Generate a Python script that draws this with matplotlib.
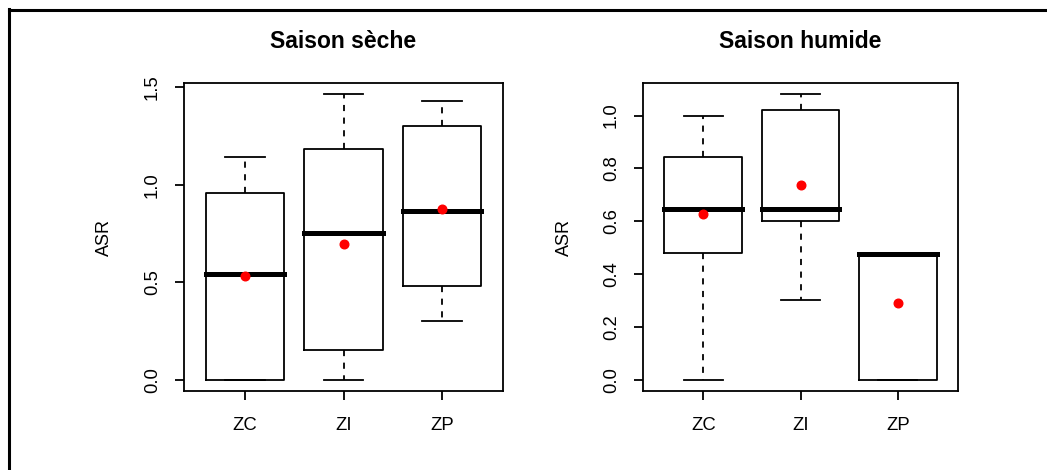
import matplotlib
matplotlib.use("Agg")
import matplotlib.pyplot as plt
from matplotlib.lines import Line2D

plt.rcParams['font.family'] = ['Liberation Sans', 'DejaVu Sans']

# Zones
categories = ["ZC", "ZI", "ZP"]

# Dry season: five-number summaries (lower whisker, Q1, median, Q3, upper whisker) and means
dry_whislo = [0.000, 0.000, 0.302]
dry_q1 = [0.000, 0.150, 0.481]
dry_med = [0.543, 0.750, 0.867]
dry_q3 = [0.957, 1.186, 1.304]
dry_whishi = [1.143, 1.464, 1.428]
dry_mean = [0.534, 0.695, 0.874]

# Wet season
wet_whislo = [0.000, 0.303, 0.000]
wet_q1 = [0.480, 0.599, 0.000]
wet_med = [0.645, 0.645, 0.476]
wet_q3 = [0.844, 1.020, 0.476]
wet_whishi = [1.000, 1.080, 0.476]
wet_mean = [0.626, 0.737, 0.289]

dry_ticks = [0.0, 0.5, 1.0, 1.5]
wet_ticks = [0.0, 0.2, 0.4, 0.6, 0.8, 1.0]

W, H = 1047, 470
fig = plt.figure(figsize=(W / 100, H / 100), dpi=100)

LW = 1.3


def panel(rect, title, whislo, q1, med, q3, whishi, means, yticks):
    ax = fig.add_axes(rect)
    stats = []
    for i, name in enumerate(categories):
        stats.append(dict(label=name, whislo=whislo[i], q1=q1[i], med=med[i],
                          q3=q3[i], whishi=whishi[i], fliers=[]))
    pos = list(range(1, len(categories) + 1))
    ax.bxp(stats, positions=pos, widths=0.8, capwidths=0.4, showfliers=False,
           boxprops=dict(color="black", linewidth=LW),
           whiskerprops=dict(color="black", linewidth=LW, linestyle=(0, (3.4, 3.6))),
           capprops=dict(color="black", linewidth=LW),
           medianprops=dict(color="black", linewidth=3.6, solid_capstyle="projecting"))
    ax.plot(pos, means, linestyle="none", marker="o", markersize=6.2,
            color="red", zorder=5)

    lo = min(whislo + q1)
    hi = max(whishi + q3)
    pad = 0.04 * (hi - lo)
    ax.set_ylim(lo - pad, hi + pad)
    ax.set_xlim(0.5 - 0.12, len(categories) + 0.5 + 0.12)

    ax.set_xticks(pos)
    ax.set_xticklabels(categories)
    ax.set_yticks(yticks)
    ax.set_yticklabels([f"{t:.1f}" for t in yticks])
    for lbl in ax.get_yticklabels():
        lbl.set_rotation(90)
        lbl.set_va("center")

    ax.tick_params(axis="both", direction="out", length=6.5, width=LW,
                   labelsize=13.3, colors="black")
    ax.tick_params(axis="x", pad=12.0)
    ax.tick_params(axis="y", pad=10.0)
    for sp in ax.spines.values():
        sp.set_linewidth(LW)
        sp.set_color("black")

    ax.set_ylabel("ASR", fontsize=13, va="center")
    ax.yaxis.set_label_coords(-0.248, 0.5)
    ax.set_title(title, fontsize=16.5, fontweight="bold", pad=25)
    return ax


def rect_px(x0, x1, y0, y1):
    return [x0 / W, 1 - y1 / H, (x1 - x0) / W, (y1 - y0) / H]


panel(rect_px(184, 503, 83, 391), "Saison sèche",
      dry_whislo, dry_q1, dry_med, dry_q3, dry_whishi, dry_mean, dry_ticks)
panel(rect_px(643, 958, 83, 391), "Saison humide",
      wet_whislo, wet_q1, wet_med, wet_q3, wet_whishi, wet_mean, wet_ticks)

# Outer frame lines along the top and left edges
fig.add_artist(Line2D([8.7 / W, 1.0], [1 - 9.6 / H, 1 - 9.6 / H],
                      color="black", linewidth=2.2, transform=fig.transFigure))
fig.add_artist(Line2D([8.7 / W, 8.7 / W], [1 - 8.5 / H, 0.0],
                      color="black", linewidth=2.2, transform=fig.transFigure))

fig.savefig("out.png", dpi=100, facecolor="white")
